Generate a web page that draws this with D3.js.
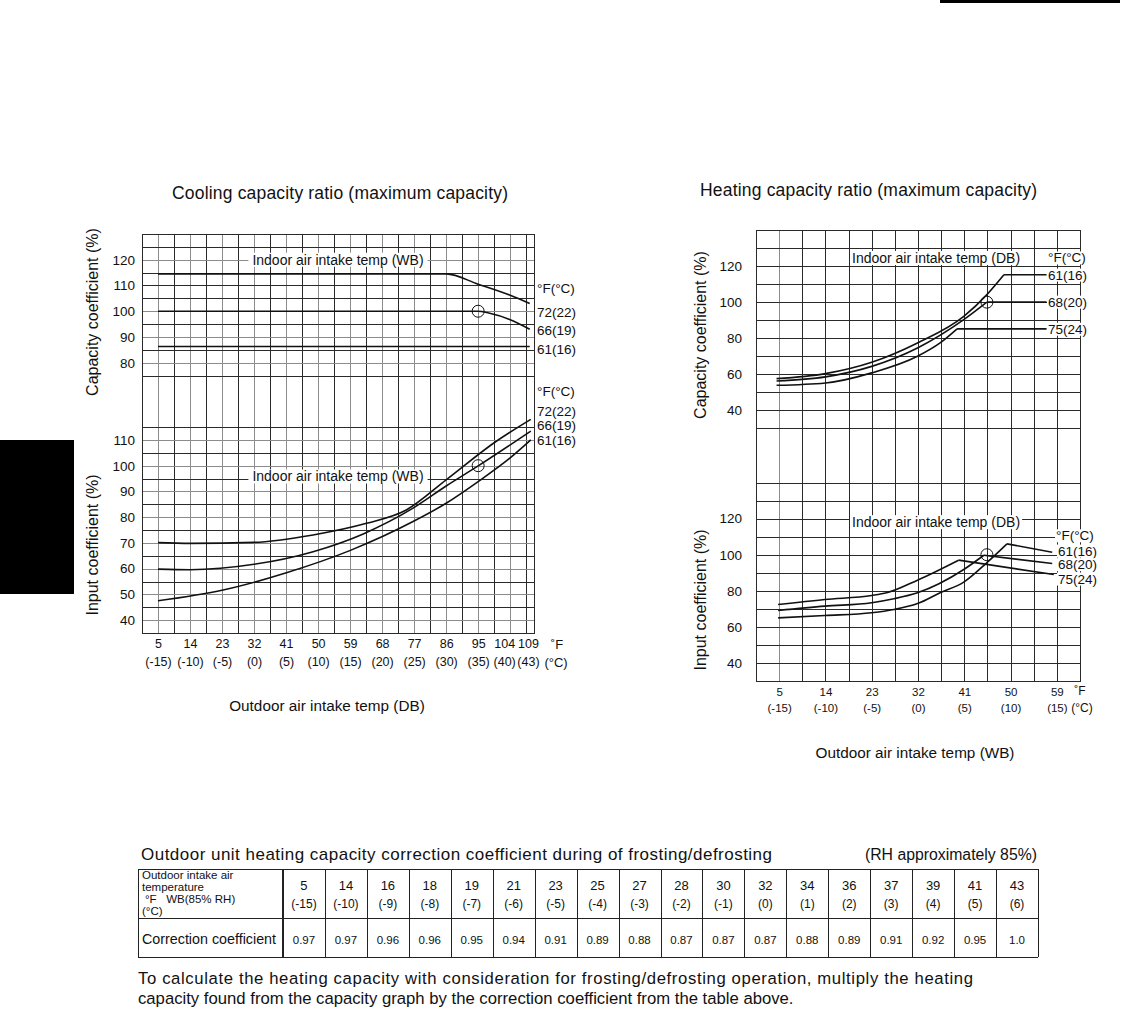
<!DOCTYPE html>
<html><head><meta charset="utf-8">
<script src="https://cdn.jsdelivr.net/npm/d3@7"></script>
<style>
body{margin:0;background:#fff;}
svg{display:block;font-family:"Liberation Sans",Arial,Helvetica,sans-serif;fill:#111;}
</style></head><body>
<svg id="c" width="1133" height="1012"></svg>
<script>
// ---------------- DATA ----------------
// Cooling chart (x: outdoor DB °F)
const coolTicksF = [5,14,23,32,41,50,59,68,77,86,95,104,109];
const coolTicksC = [-15,-10,-5,0,5,10,15,20,25,30,35,40,43];
const coolCapTicks = [80,90,100,110,120];
const coolInpTicks = [40,50,60,70,80,90,100,110];
const coolLabels = ["72(22)","66(19)","61(16)"];
const coolCap72 = [[5,114.5],[86,114.5],[95,110.5],[104,106.2],[109.5,103]];
const coolCap66 = [[5,100],[95,100],[98,99.3],[104,96.7],[109.5,93]];
const coolCap61 = [[5,86.3],[109.5,86.3]];
const coolInp72 = [[5,70.1],[14,69.8],[32,70.2],[48.6,73.1],[63.6,77.6],[74.8,82.8],[86,94.5],[100,109.4],[109.8,118]];
const coolInp66 = [[5,59.8],[14,59.6],[32,61.7],[48.6,66.6],[62.7,73.5],[76.7,83.5],[86,92.1],[95,99.9],[109.8,113.4]];
const coolInp61 = [[5,47.5],[23.3,51.7],[41.1,58.4],[58.9,67],[76.7,78.3],[86,85.4],[95.3,94.1],[103.9,102.9],[109.8,110]];

// Heating chart (x: outdoor WB °F)
const heatTicksF = [5,14,23,32,41,50,59];
const heatTicksC = [-15,-10,-5,0,5,10,15];
const heatYTicks = [40,60,80,100,120];
const heatLabels = ["61(16)","68(20)","75(24)"];
const heatCap61 = [[4.5,57.6],[14,60.4],[23,66.7],[31.9,77.4],[40.9,92.1],[45.4,104.2],[48.7,115.2],[57,115.2]];
const heatCap68 = [[4.5,56.3],[14,58.6],[23,64.4],[31.9,74.6],[40.9,90.3],[45.4,100],[57,100]];
const heatCap75 = [[4.5,53.9],[14,55.2],[23,60.8],[31.9,70],[36.3,77.4],[39.6,85.2],[57,85.2]];
const heatInp61 = [[4.8,65],[13.9,66.3],[23,67.8],[27.3,69.6],[31.9,72.9],[36.3,78.9],[40.9,84.8],[45.4,95.6],[49.3,106],[58.1,101.4]];
const heatInp68 = [[4.8,69.1],[13.9,71.5],[23,73.4],[27.3,75.6],[31.9,78.9],[40.9,91.8],[44.8,99.7],[58.1,95.1]];
const heatInp75 = [[4.8,72.4],[13.9,75.2],[23,77.4],[25.9,78.9],[31.9,85.9],[39.9,97],[58.4,89]];

// Correction table
const tableTempF = [5,14,16,18,19,21,23,25,27,28,30,32,34,36,37,39,41,43];
const tableTempC = [-15,-10,-9,-8,-7,-6,-5,-4,-3,-2,-1,0,1,2,3,4,5,6];
const tableCoef = [0.97,0.97,0.96,0.96,0.95,0.94,0.91,0.89,0.88,0.87,0.87,0.87,0.88,0.89,0.91,0.92,0.95,1.0];
const tableHeader = ["Outdoor intake air","temperature","°F\u00a0\u00a0\u00a0WB(85% RH)","(°C)"];

// ---------------- DRAW ----------------
const svg = d3.select("#c");
const DARK = "#2a2a2a", LIGHT = "#8c8c8c";

svg.append("rect").attr("x",0).attr("y",440).attr("width",74).attr("height",154).attr("fill","#000");
svg.append("rect").attr("x",940).attr("y",0).attr("width",180).attr("height",3).attr("fill","#000");

function boxedText(g, x, y, txt, size, anchor, pad) {
  const t = g.append("text").attr("x",x).attr("y",y).attr("font-size",size)
    .attr("text-anchor",anchor||"start").attr("dominant-baseline","central").text(txt);
  const b = t.node().getBBox();
  const p = pad==null?3:pad;
  g.insert("rect", () => t.node()).attr("x",b.x-p).attr("y",b.y+1).attr("width",b.width+2*p)
    .attr("height",b.height-2).attr("fill","#fff");
  return t;
}
function plainText(g, x, y, txt, size, anchor, width) {
  const t = g.append("text").attr("x",x).attr("y",y).attr("font-size",size)
    .attr("text-anchor",anchor||"start").attr("dominant-baseline","central").text(txt);
  if (width) t.attr("textLength",width).attr("lengthAdjust","spacing");
  return t;
}
function hline(g, x0, x1, y, col){ g.append("line").attr("x1",x0).attr("x2",x1).attr("y1",y).attr("y2",y).attr("stroke",col).attr("stroke-width",1).attr("shape-rendering","crispEdges"); }
function vline(g, x, y0, y1, col){ g.append("line").attr("x1",x).attr("x2",x).attr("y1",y0).attr("y2",y1).attr("stroke",col).attr("stroke-width",1).attr("shape-rendering","crispEdges"); }

function drawSeries(g, data, xs, ys, linearFrom) {
  const k = linearFrom==null ? data.length : linearFrom;
  const mk = c => d3.line().x(d=>xs(d[0])).y(d=>ys(d[1])).curve(c);
  g.append("path").attr("d", mk(d3.curveMonotoneX)(data.slice(0,k)))
    .attr("fill","none").attr("stroke","#111").attr("stroke-width",1.6);
  if (k < data.length) {
    g.append("path").attr("d", mk(d3.curveLinear)(data.slice(k-1)))
      .attr("fill","none").attr("stroke","#111").attr("stroke-width",1.6);
  }
}
function yAxis(g, scale, ticks, x, pad, size) {
  const ax = g.append("g").attr("transform",`translate(${x},0)`)
    .call(d3.axisLeft(scale).tickValues(ticks).tickSize(0).tickPadding(pad));
  ax.select(".domain").remove();
  ax.selectAll("text").attr("font-size",size).attr("font-family",null).attr("fill","#111");
}
function xAxis(g, scale, ticks, fmt, y, pad, size, nudge) {
  const ax = g.append("g").attr("transform",`translate(0,${y})`)
    .call(d3.axisBottom(scale).tickValues(ticks).tickSize(0).tickPadding(pad).tickFormat(fmt));
  ax.select(".domain").remove();
  ax.selectAll("text").attr("font-size",size).attr("font-family",null).attr("fill","#111")
    .attr("dx", d => nudge && nudge[d] ? nudge[d] : 0);
}
function vtitle(g, x, y, txt, size) {
  g.append("text").attr("transform",`translate(${x},${y}) rotate(-90)`).attr("text-anchor","middle")
    .attr("dominant-baseline","central").attr("font-size",size).text(txt);
}

// ===== Cooling =====
{
  const g = svg.append("g");
  const L=142, R=534, T=234, B=633;
  const x = d3.scaleLinear().domain([0.5,110.7]).range([L,R]);
  const yCap = d3.scaleLinear().domain([-25,130]).range([B,T]);
  const yInp = d3.scaleLinear().domain([35,190]).range([B,T]);

  plainText(g, 340, 193, "Cooling capacity ratio (maximum capacity)", 17.5, "middle", 336);

  d3.range(5,110,4.5).forEach((v,i)=> vline(g, Math.round(x(v))+0.5, T, B, i%2===0?LIGHT:DARK));
  d3.range(75,130,5).forEach(v=> hline(g, L, R, Math.round(yCap(v))+0.5, v%10===0 && v!==110 ?LIGHT:DARK));
  d3.range(40,116,5).forEach(v=> hline(g, L, R, Math.round(yInp(v))+0.5, v%10===0?LIGHT:DARK));
  g.append("rect").attr("x",L+0.5).attr("y",T+0.5).attr("width",R-L).attr("height",B-T)
    .attr("fill","none").attr("stroke",DARK).attr("shape-rendering","crispEdges");

  boxedText(g, 338, yCap(120), "Indoor air intake temp (WB)", 14, "middle", 4);
  boxedText(g, 338, yInp(95.8), "Indoor air intake temp (WB)", 14, "middle", 4);

  yAxis(g, yCap, coolCapTicks, L, 7, 13.5);
  yAxis(g, yInp, coolInpTicks, L, 7, 13.5);
  const nudge = {104:-6};
  xAxis(g, x, coolTicksF, d=>d, B, 6.5, 12.5, nudge);
  xAxis(g, x, coolTicksF, (d,i)=>`(${coolTicksC[i]})`, B, 24, 12.5, nudge);
  plainText(g, 557, 644, "˚F", 13, "middle");
  plainText(g, 556, 662, "(°C)", 13, "middle");

  vtitle(g, 92, 312, "Capacity coefficient (%)", 16);
  vtitle(g, 92, 545, "Input coefficient (%)", 16);
  plainText(g, 327, 705, "Outdoor air intake temp (DB)", 15.3, "middle");

  drawSeries(g, coolCap72, x, yCap);
  drawSeries(g, coolCap66, x, yCap);
  drawSeries(g, coolCap61, x, yCap);
  drawSeries(g, coolInp72, x, yInp);
  drawSeries(g, coolInp66, x, yInp);
  drawSeries(g, coolInp61, x, yInp);
  g.append("circle").attr("cx",x(95)).attr("cy",yCap(100)).attr("r",6).attr("fill","none").attr("stroke","#111");
  g.append("circle").attr("cx",x(95)).attr("cy",yInp(100)).attr("r",6).attr("fill","none").attr("stroke","#111");

  const lab = (y,t)=> boxedText(g, 537, y, t, 13.5, "start", 1);
  lab(yCap(109), "°F(°C)");
  lab(yCap(99.4), coolLabels[0]);
  lab(yCap(92.4), coolLabels[1]);
  lab(yCap(85.2), coolLabels[2]);
  lab(yInp(128.7), "°F(°C)");
  lab(yInp(120.9), coolLabels[0]);
  lab(yInp(115.5), coolLabels[1]);
  lab(yInp(109.6), coolLabels[2]);
}

// ===== Heating =====
{
  const g = svg.append("g");
  const L=756, R=1080, T=230, B=681;
  const x = d3.scaleLinear().domain([0.5,63.5]).range([L,R]);
  const yCap = d3.scaleLinear().domain([-110,140]).range([B,T]);
  const yInp = d3.scaleLinear().domain([30,280]).range([B,T]);

  plainText(g, 868.5, 190, "Heating capacity ratio (maximum capacity)", 17.5, "middle", 337);

  d3.range(5,63,4.5).forEach((v,i)=> vline(g, Math.round(x(v))+0.5, T, B, i===0?LIGHT:DARK));
  d3.range(30,140,10).forEach(v=> hline(g, L, R, Math.round(yCap(v))+0.5, DARK));
  d3.range(40,141,10).forEach(v=> hline(g, L, R, Math.round(yInp(v))+0.5, DARK));
  g.append("rect").attr("x",L+0.5).attr("y",T+0.5).attr("width",R-L).attr("height",B-T)
    .attr("fill","none").attr("stroke",DARK).attr("shape-rendering","crispEdges");

  boxedText(g, 852, yCap(124.5), "Indoor air intake temp (DB)", 14, "start", 2);
  boxedText(g, 852, yInp(117.5)-1, "Indoor air intake temp (DB)", 14, "start", 2);

  yAxis(g, yCap, heatYTicks, L, 14, 13.5);
  yAxis(g, yInp, heatYTicks, L, 14, 13.5);
  xAxis(g, x, heatTicksF, d=>d, B, 7, 11.5);
  xAxis(g, x, heatTicksF, (d,i)=>`(${heatTicksC[i]})`, B, 22.5, 11.5);
  plainText(g, 1080, 691, "˚F", 12, "middle");
  plainText(g, 1082, 708, "(°C)", 12, "middle");

  vtitle(g, 700, 335, "Capacity coefficient (%)", 16);
  vtitle(g, 700, 600, "Input coefficient (%)", 16);
  plainText(g, 915, 752, "Outdoor air intake temp (WB)", 15.3, "middle");

  drawSeries(g, heatCap61, x, yCap, 7);
  drawSeries(g, heatCap68, x, yCap, 6);
  drawSeries(g, heatCap75, x, yCap, 6);
  drawSeries(g, heatInp61, x, yInp, 9);
  drawSeries(g, heatInp68, x, yInp, 7);
  drawSeries(g, heatInp75, x, yInp, 6);
  g.append("circle").attr("cx",x(45.4)).attr("cy",yCap(100)).attr("r",6).attr("fill","none").attr("stroke","#111");
  g.append("circle").attr("cx",x(45.4)).attr("cy",yInp(100)).attr("r",6).attr("fill","none").attr("stroke","#111");

  boxedText(g, 1048, yCap(124.5), "°F(°C)", 13.5, "start", 1);
  boxedText(g, 1048, yCap(115), heatLabels[0], 13.5, "start", 1);
  boxedText(g, 1048, yCap(100), heatLabels[1], 13.5, "start", 1);
  boxedText(g, 1048, yCap(85), heatLabels[2], 13.5, "start", 1);
  boxedText(g, 1056, yInp(110.5), "°F(°C)", 13.5, "start", 1);
  boxedText(g, 1058, yInp(102), heatLabels[0], 13.5, "start", 1);
  boxedText(g, 1058, yInp(94.5), heatLabels[1], 13.5, "start", 1);
  boxedText(g, 1058, yInp(86.5), heatLabels[2], 13.5, "start", 1);
}

// ===== Table =====
{
  const g = svg.append("g");
  const L=138, H=283, R=1038, T=869, M=918, B=957;
  plainText(g, 141, 854, "Outdoor unit heating capacity correction coefficient during of frosting/defrosting", 17, "start", 631);
  plainText(g, 1037, 854, "(RH approximately 85%)", 15.8, "end");

  const col = d3.scaleBand().domain(d3.range(tableTempF.length)).range([H,R]);
  hline(g, L, R, T+0.5, "#222");
  hline(g, L, R, M+0.5, "#222");
  hline(g, L, R, B+0.5, "#222");
  vline(g, L+0.5, T, B, "#222");
  vline(g, H-0.5, T, B, "#222");
  vline(g, H+0.5, T, B, "#222");
  col.domain().forEach(i=> vline(g, Math.round(col(i)+col.bandwidth())+0.5, T, B, "#222"));

  tableHeader.forEach((t,i)=> plainText(g, i===2?145:142, 874.5 + i*12, t, 11.5, "start"));
  plainText(g, 142, 939, "Correction coefficient", 14.3, "start");

  const cols = g.selectAll("g.c").data(d3.range(tableTempF.length)).join("g");
  cols.append("text").attr("x",i=>col(i)+col.bandwidth()/2).attr("y",885).attr("text-anchor","middle")
    .attr("dominant-baseline","central").attr("font-size",13).text(i=>tableTempF[i]);
  cols.append("text").attr("x",i=>col(i)+col.bandwidth()/2).attr("y",904).attr("text-anchor","middle")
    .attr("dominant-baseline","central").attr("font-size",12).text(i=>`(${tableTempC[i]})`);
  cols.append("text").attr("x",i=>col(i)+col.bandwidth()/2).attr("y",940).attr("text-anchor","middle")
    .attr("dominant-baseline","central").attr("font-size",11.5).text(i=> tableCoef[i]===1 ? "1.0" : tableCoef[i].toFixed(2));

  plainText(g, 138, 978, "To calculate the heating capacity with consideration for frosting/defrosting operation, multiply the heating", 16.7, "start", 835);
  plainText(g, 138, 998, "capacity found from the capacity graph by the correction coefficient from the table above.", 16.7, "start");
}
</script>
</body></html>
